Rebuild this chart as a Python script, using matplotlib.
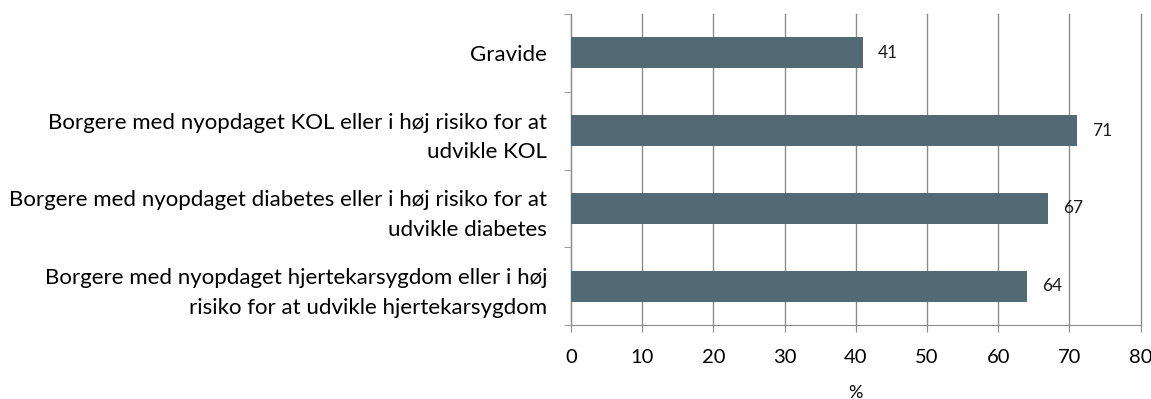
import matplotlib
matplotlib.use("Agg")
import matplotlib.pyplot as plt
import numpy as np

plt.rcParams["font.family"] = ["Lato", "DejaVu Sans"]

categories = [
    "Gravide",
    "Borgere med nyopdaget KOL eller i høj risiko for at\nudvikle KOL",
    "Borgere med nyopdaget diabetes eller i høj risiko for at\nudvikle diabetes",
    "Borgere med nyopdaget hjertekarsygdom eller i høj\nrisiko for at udvikle hjertekarsygdom",
]
values = [41, 71, 67, 64]
xticks = [0, 10, 20, 30, 40, 50, 60, 70, 80]

bar_color = "#526a73"
grid_color = "#8c8c8c"

fig = plt.figure(figsize=(11.51, 3.99), dpi=100)
ax = fig.add_axes([0.496, 0.185, 0.495, 0.78])

y = np.arange(len(categories))
ax.barh(y, values, height=0.4, color=bar_color, zorder=3)
for yi, v in zip(y, values):
    ax.annotate(str(v), (v, yi), xytext=(11, 0), textcoords="offset points",
                va="center", ha="left", fontsize=12.5, color="#1a1a1a")

ax.set_xlim(0, 80)
ax.set_ylim(len(categories) - 0.5, -0.5)
ax.set_xticks(xticks)
ax.set_yticks(y)
ax.set_yticklabels(categories, fontsize=16, linespacing=1.6)
ax.set_yticks(np.arange(-0.5, len(categories)), minor=True)
ax.tick_params(axis="y", which="major", length=0, pad=17)
ax.tick_params(axis="y", which="minor", length=5, color=grid_color, direction="out")
ax.tick_params(axis="x", length=5, color=grid_color, labelsize=14.5, pad=12)
ax.set_xlabel("%", fontsize=13, labelpad=14)

ax.grid(axis="x", color=grid_color, lw=1, zorder=0)
for line in ax.get_xgridlines():
    line.set_clip_on(False)
for s in ["top", "right"]:
    ax.spines[s].set_visible(False)
for s in ["left", "bottom"]:
    ax.spines[s].set_color(grid_color)

fig.savefig("out.png", dpi=100)
